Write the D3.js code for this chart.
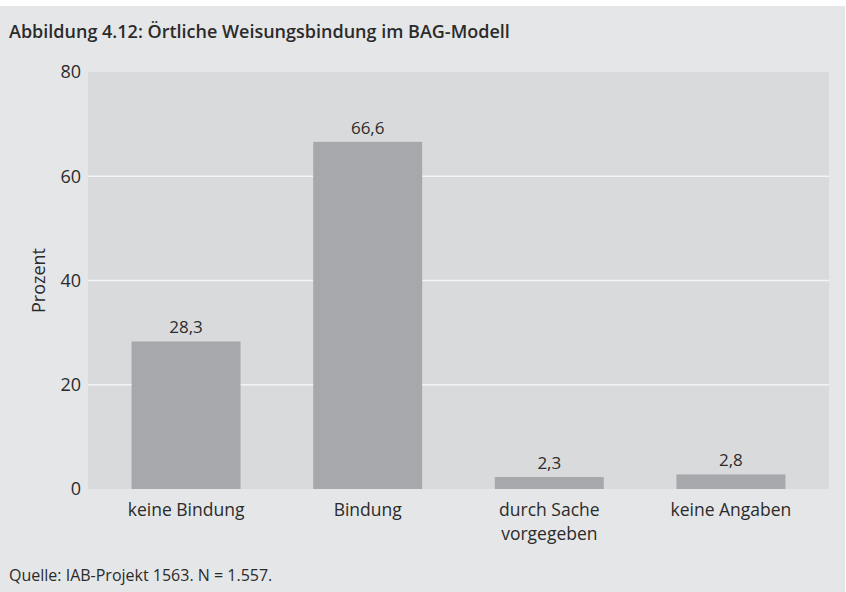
<!DOCTYPE html>
<html>
<head>
<meta charset="utf-8">
<script src="https://cdn.jsdelivr.net/npm/d3@7"></script>
<style>
  body { margin: 0; background: #fff; }
  text { font-family: "Open Sans", "DejaVu Sans Condensed", sans-serif; fill: #2b2b2b; }
</style>
</head>
<body>
<div id="chart"></div>
<script>
var categories = ["keine Bindung", "Bindung", "durch Sache|vorgegeben", "keine Angaben"];
var values = [28.3, 66.6, 2.3, 2.8];
var labels = ["28,3", "66,6", "2,3", "2,8"];
var yTicks = [0, 20, 40, 60, 80];

var width = 846, height = 592;
var margin = { top: 72, right: 17, bottom: 103, left: 88 };

var svg = d3.select("#chart").append("svg")
    .attr("width", width)
    .attr("height", height);

// grey panel behind everything
svg.append("rect")
    .attr("x", 0).attr("y", 6)
    .attr("width", 845).attr("height", height - 6)
    .attr("fill", "#e5e6e8");

svg.append("text")
    .attr("x", 9).attr("y", 38)
    .attr("font-size", "18px")
    .attr("font-weight", "600")
    .text("Abbildung 4.12: Örtliche Weisungsbindung im BAG-Modell");

var x = d3.scaleBand()
    .domain(categories)
    .range([margin.left, width - margin.right])
    .paddingInner(0.4)
    .paddingOuter(0.24);

var y = d3.scaleLinear()
    .domain([0, 80])
    .range([height - margin.bottom, margin.top]);

svg.append("rect")
    .attr("x", margin.left).attr("y", margin.top)
    .attr("width", width - margin.right - margin.left)
    .attr("height", y(0) - margin.top)
    .attr("fill", "#d9dadc");

svg.append("g")
    .selectAll("line")
    .data(yTicks.filter(function(d) { return d > 0 && d < 80; }))
    .enter().append("line")
    .attr("x1", margin.left).attr("x2", width - margin.right)
    .attr("y1", function(d) { return y(d); })
    .attr("y2", function(d) { return y(d); })
    .attr("stroke", "#f4f4f5")
    .attr("stroke-width", 1.5);

svg.append("g")
    .selectAll("rect")
    .data(values)
    .enter().append("rect")
    .attr("x", function(d, i) { return x(categories[i]); })
    .attr("y", function(d) { return y(d); })
    .attr("width", x.bandwidth())
    .attr("height", function(d) { return y(0) - y(d); })
    .attr("fill", "#a7a8ab");

svg.append("g")
    .selectAll("text")
    .data(values)
    .enter().append("text")
    .attr("x", function(d, i) { return x(categories[i]) + x.bandwidth() / 2; })
    .attr("y", function(d) { return y(d) - 8; })
    .attr("text-anchor", "middle")
    .attr("font-size", "17px")
    .text(function(d, i) { return labels[i]; });

var yAxis = svg.append("g")
    .attr("transform", "translate(" + margin.left + ",0)")
    .call(d3.axisLeft(y).tickValues(yTicks).tickSize(0).tickPadding(7));
yAxis.select(".domain").remove();
yAxis.selectAll("text").attr("font-size", "18px").attr("fill", "#2b2b2b")
    .style("font-family", "'Open Sans', sans-serif");

var xAxis = svg.append("g")
    .attr("transform", "translate(0," + y(0) + ")")
    .call(d3.axisBottom(x).tickSize(0).tickFormat(""));
xAxis.select(".domain").remove();

xAxis.selectAll(".tick").each(function(d) {
    var t = d3.select(this).append("text")
        .attr("text-anchor", "middle")
        .attr("font-size", "17.5px")
        .attr("fill", "#2b2b2b");
    d.split("|").forEach(function(line, k) {
        t.append("tspan").attr("x", 0).attr("y", 27 + k * 24).text(line);
    });
});

svg.append("text")
    .attr("transform", "translate(45," + y(40) + ") rotate(-90)")
    .attr("text-anchor", "middle")
    .attr("font-size", "18px")
    .text("Prozent");

svg.append("text")
    .attr("x", 9).attr("y", 581)
    .attr("font-size", "16px")
    .text("Quelle: IAB-Projekt 1563. N = 1.557.");
</script>
</body>
</html>
